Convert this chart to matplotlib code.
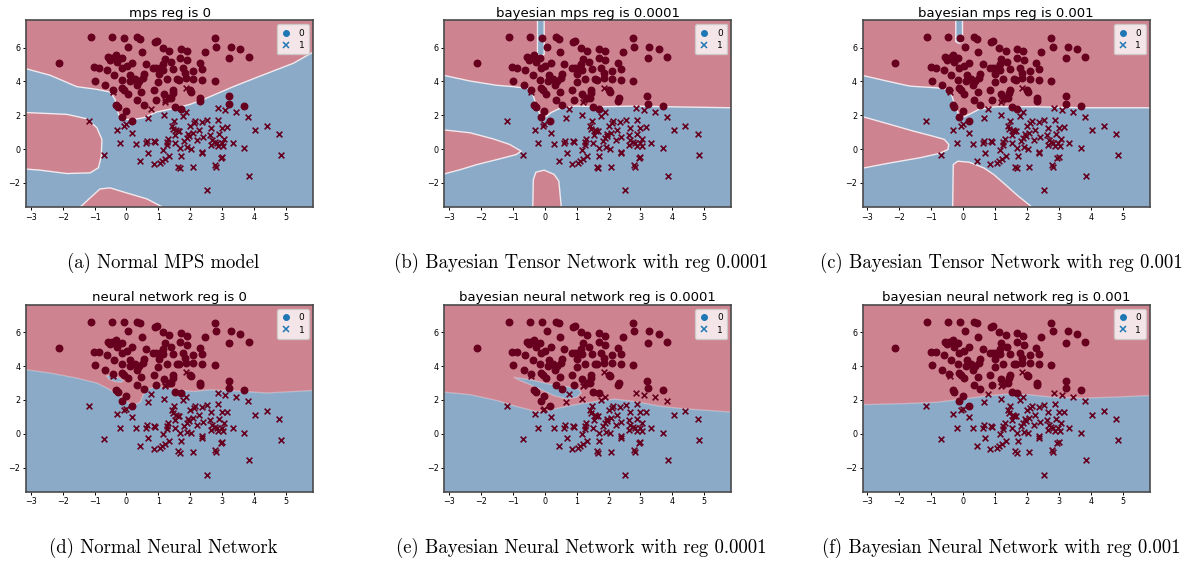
import numpy as np
import matplotlib
matplotlib.use("Agg")
import matplotlib.pyplot as plt
from matplotlib.lines import Line2D

RED = "#cd8490"
BLUE = "#8aaac8"
POINT = "#67001f"
EDGE = "#f1e9ee"
XLIM = (-3.15, 5.85)
YLIM = (-3.43, 7.62)

# class 0 points (circles)
c0_x = [-2.13, -1.12, -0.46, -0.09, 0.34, 0.43, 0.06, 0.88, 0.95, 1.13, 1.33, 1.70, 1.89, 0.48,
        2.76, 2.81, 2.45, 3.28, 3.57, 3.23, 3.83, -1.02, -0.86, -0.99, -0.61, -0.57, -0.51, -0.45,
        -0.33, -0.29, -0.15, -0.13, 0.02, 0.18, -0.38, -0.15, 0.12, 0.10, 0.26, 0.38, 0.51, 0.54,
        0.61, 0.84, 0.94, 1.04, 1.15, 1.20, 1.16, 1.01, 1.00, 1.26, 1.39, 1.47, 1.58, 1.65, 1.69,
        1.77, 1.85, 1.90, 1.86, 2.10, 2.10, 2.29, 2.38, 2.38, 2.77, -0.66, -0.43, -0.13, -0.07,
        0.04, 0.32, 0.47, 0.34, 0.54, 0.85, 0.91, 1.18, 1.32, 1.46, 1.45, 1.41, 2.00, 2.03, 2.32,
        2.31, 1.52, 1.70, -0.33, -0.28, -0.02, -0.13, 0.17, 3.21, 3.23, 3.70]
c0_y = [5.09, 6.63, 6.63, 6.59, 6.63, 6.53, 6.06, 6.32, 6.38, 5.99, 5.82, 5.94, 5.80, 5.72,
        6.57, 6.06, 5.74, 6.06, 5.90, 5.38, 5.42, 4.85, 4.81, 4.04, 4.67, 5.45, 5.28, 5.40,
        5.56, 5.15, 5.39, 4.77, 4.91, 5.11, 4.38, 4.10, 4.36, 4.02, 4.12, 4.02, 4.20, 4.42,
        5.01, 4.80, 4.80, 4.80, 5.00, 5.35, 4.70, 4.41, 3.96, 4.12, 5.15, 4.72, 4.12, 4.10, 5.40,
        4.80, 4.50, 5.27, 4.20, 4.63, 4.16, 5.09, 4.72, 4.10, 4.04, 3.76, 3.52, 3.62, 3.48,
        3.27, 3.76, 3.37, 2.90, 2.62, 3.50, 2.91, 3.25, 3.01, 3.48, 3.31, 2.99, 3.48, 3.39, 2.99,
        2.87, 2.46, 2.38, 2.58, 2.46, 2.22, 1.91, 1.63, 3.13, 2.68, 2.56]

# class 1 points (crosses)
c1_x = [-1.18, -0.69, -0.42, -0.31, -0.20, -0.07, -0.01, 0.18, 0.30, 0.43, 0.64, 0.61, 0.66,
        0.68, 0.77, 0.87, 0.90, 0.85, 1.05, 1.11, 1.16, 1.18, 1.20, 1.22, 1.21, 1.26, 1.26, 1.33,
        1.30, 1.42, 1.45, 1.48, 1.53, 1.52, 1.56, 1.61, 1.66, 1.63, 1.68, 1.69, 1.71, 1.77, 1.81,
        1.86, 1.88, 1.89, 1.91, 1.94, 2.00, 1.96, 2.03, 2.07, 2.11, 2.08, 2.15, 2.22, 2.26, 2.38,
        2.38, 2.37, 2.40, 2.54, 2.52, 2.63, 2.66, 2.68, 2.65, 2.76, 2.79, 2.82, 2.86, 2.88, 2.90,
        2.83, 2.88, 2.99, 2.95, 3.00, 2.98, 3.06, 3.04, 3.10, 3.16, 3.33, 3.44, 3.70, 3.82, 3.85,
        4.04, 4.41, 4.79, 4.85]
c1_y = [1.63, -0.33, 3.39, 1.14, 0.33, 1.39, 1.47, 0.96, 0.31, -0.72, 0.50, 0.33, 1.85,
        -0.25, 2.37, 0.48, 0.42, -0.88, -0.82, -0.72, -0.03, 2.04, 2.80, 2.90, -0.60, 0.26, 0.44, -0.43,
        0.62, 1.39, 1.20, 1.63, 0.80, 0.35, 1.10, 1.04, 1.04, -1.04, -1.12, 0.07, -0.43, 1.98, 0.46,
        3.63, 2.17, 0.66, 0.11, 0.88, 1.39, 0.76, 0.03, 0.94, 1.51, -1.08, 1.65, 0.52, 1.10, -0.15,
        -0.26, 1.61, 0.72, 1.71, -2.42, 0.82, 1.26, 0.54, 0.21, 0.42, -0.96, -1.06, 2.43, 1.73, 0.88,
        0.36, 0.17, 1.27, -0.54, -0.50, 0.36, 0.62, 0.17, 2.29, 1.31, 0.36, 2.18, 0.07, 1.91, -1.57,
        1.10, 1.37, 0.86, -0.36]

titles = ["mps reg is 0", "bayesian mps reg is 0.0001", "bayesian mps reg is 0.001",
          "neural network reg is 0", "bayesian neural network reg is 0.0001",
          "bayesian neural network reg is 0.001"]
captions = ["(a) Normal MPS model", "(b) Bayesian Tensor Network with reg 0.0001",
            "(c) Bayesian Tensor Network with reg 0.001", "(d) Normal Neural Network",
            "(e) Bayesian Neural Network with reg 0.0001",
            "(f) Bayesian Neural Network with reg 0.001"]

# upper (class 0) region boundary for each panel
top_a_x = [-3.15, -2.39, -1.56, -0.93, -0.51, -0.36, -0.25, -0.04, 0.22, 0.53, 0.95, 1.58, 1.99,
           2.41, 2.83, 3.35, 3.98, 4.61, 5.23, 5.86]
top_a_y = [4.75, 4.36, 3.69, 3.53, 3.37, 2.94, 2.05, 1.75, 1.75, 1.85, 2.19, 2.44, 2.64,
           2.93, 3.27, 3.69, 4.16, 4.62, 5.07, 5.74]
top_b_x = [-3.15, -2.34, -1.51, -1.00, -0.43, -0.36, -0.26, -0.12, -0.02, 0.19, 0.44, 0.96, 1.78,
           2.81, 3.84, 5.86]
top_b_y = [4.35, 4.02, 3.77, 3.69, 3.56, 3.13, 2.54, 1.91, 1.81, 2.15, 2.38, 2.54, 2.50,
           2.54, 2.50, 2.44]
top_c_x = [-3.15, -2.39, -1.67, -0.84, -0.43, -0.35, -0.25, -0.12, -0.02, 0.19, 0.49, 1.01, 2.24,
           3.78, 5.86]
top_c_y = [4.35, 4.02, 3.72, 3.62, 3.52, 3.13, 2.54, 1.95, 1.85, 2.05, 2.34, 2.50, 2.50,
           2.44, 2.44]
top_d_x = [-3.15, -2.39, -1.56, -0.93, -0.51, -0.20, 0.06, 0.27, 0.43, 0.53, 0.69, 0.95, 1.26,
           1.58, 2.10, 2.62, 3.35, 4.40, 5.86]
top_d_y = [3.79, 3.59, 3.29, 3.00, 2.60, 2.21, 1.82, 1.72, 1.86, 2.31, 2.64, 2.80, 2.70,
           2.60, 2.50, 2.60, 2.54, 2.41, 2.56]
top_e_x = [-3.15, -2.34, -1.51, -0.90, -0.28, 0.03, 0.44, 0.96, 1.58, 2.19, 2.81, 3.64, 4.36, 5.86]
top_e_y = [2.46, 2.31, 1.97, 1.62, 1.32, 1.32, 1.52, 1.72, 1.91, 2.05, 1.91, 1.62, 1.48, 1.28]
top_f_x = [-3.15, -1.87, -0.84, -0.02, 0.80, 1.42, 2.04, 2.76, 3.78, 4.81, 5.86]
top_f_y = [1.72, 1.78, 1.86, 2.05, 2.25, 2.35, 2.31, 2.17, 2.11, 2.17, 2.26]

# extra class 0 islands
left_a_x = [-3.4, -1.87, -1.24, -0.93, -0.77, -0.79, -0.88, -1.14, -1.87, -2.71, -3.4]
left_a_y = [2.18, 2.05, 1.79, 1.26, 0.57, -0.42, -1.11, -1.41, -1.45, -1.25, -1.15]
bottom_a_x = [-1.60, -1.14, -0.83, -0.51, 0.01, 0.64, 1.40]
bottom_a_y = [-3.7, -2.89, -2.36, -2.30, -2.60, -2.95, -3.7]
left_b_x = [-3.4, -2.34, -1.62, -1.10, -0.74, -0.90, -1.41, -2.13, -2.65, -3.4]
left_b_y = [1.18, 0.96, 0.60, 0.27, -0.13, -0.33, -0.58, -0.92, -1.22, -1.60]
bottom_b_x = [-0.38, -0.36, -0.28, -0.02, 0.29, 0.44, 0.53]
bottom_b_y = [-3.7, -1.81, -1.37, -1.25, -1.50, -1.90, -3.7]
left_c_x = [-3.4, -2.28, -1.56, -0.95, -0.59, -0.45, -0.48, -0.74, -1.36, -2.28, -3.4]
left_c_y = [2.05, 1.45, 1.06, 0.76, 0.57, 0.27, -0.03, -0.26, -0.52, -0.82, -1.22]
bottom_c_x = [-0.33, -0.31, -0.17, 0.19, 0.65, 0.96, 1.32, 1.73, 2.09, 2.25]
bottom_c_y = [-3.7, -0.92, -0.72, -0.78, -1.12, -1.51, -2.10, -2.79, -3.33, -3.7]

# class 1 islands inside the upper region
slit_b_x = [-0.23, -0.23, -0.12, -0.02, -0.02]
slit_b_y = [7.9, 5.6, 5.5, 5.6, 7.9]
slit_c_x = [-0.23, -0.23, -0.12, -0.02, -0.02]
slit_c_y = [7.9, 6.35, 6.25, 6.35, 7.9]
isle_d_x = [-0.62, -0.50, -0.30, -0.10, -0.15, -0.35, -0.55]
isle_d_y = [3.40, 3.47, 3.35, 3.16, 3.05, 3.08, 3.22]
isle_e_x = [-0.95, -0.48, 0.13, 0.75, 1.06, 1.14, 1.01, 0.70, 0.29, -0.28, -0.79]
isle_e_y = [3.33, 3.20, 2.94, 2.76, 2.64, 2.41, 2.17, 2.05, 2.25, 2.76, 3.16]

panels = [
    ((top_a_x, top_a_y), [(left_a_x, left_a_y), (bottom_a_x, bottom_a_y)], [], 1.0),
    ((top_b_x, top_b_y), [(left_b_x, left_b_y), (bottom_b_x, bottom_b_y)], [(slit_b_x, slit_b_y)], 1.0),
    ((top_c_x, top_c_y), [(left_c_x, left_c_y), (bottom_c_x, bottom_c_y)], [(slit_c_x, slit_c_y)], 1.0),
    ((top_d_x, top_d_y), [], [(isle_d_x, isle_d_y)], 0.35),
    ((top_e_x, top_e_y), [], [(isle_e_x, isle_e_y)], 0.35),
    ((top_f_x, top_f_y), [], [], 0.35),
]

lefts = [0.0217, 0.3706, 0.7195]
bottoms = [0.631, 0.1235]
width, height = 0.2394, 0.333
cap_x = [0.136, 0.4846, 0.835]
cap_y = [0.531, 0.024]


def draw_panel(ax, title, top, reds, blues, line_alpha):
    ax.set_facecolor(BLUE)
    bx, by = list(top[0]), list(top[1])
    ax.fill(bx + [6.5, -3.5], by + [8.0, 8.0], color=RED, lw=0, zorder=1)
    ax.plot(bx, by, color=EDGE, lw=1.0, alpha=line_alpha, zorder=2)
    for px, py in reds:
        ax.fill(px, py, color=RED, lw=0, zorder=1)
        ax.plot(list(px) + [px[0]], list(py) + [py[0]], color=EDGE, lw=1.0, alpha=line_alpha, zorder=2)
    for px, py in blues:
        ax.fill(px, py, color=BLUE, lw=0, zorder=1.5)
        ax.plot(list(px) + [px[0]], list(py) + [py[0]], color=EDGE, lw=1.0, alpha=line_alpha, zorder=2)

    ax.scatter(c0_x, c0_y, marker="o", s=22, color=POINT, zorder=3)
    ax.scatter(c1_x, c1_y, marker="x", s=17, color=POINT, linewidths=1.2, zorder=3)

    ax.set_xlim(XLIM)
    ax.set_ylim(YLIM)
    ax.set_xticks(range(-3, 6))
    ax.set_yticks([-2, 0, 2, 4, 6])
    ax.tick_params(labelsize=5.8, length=2.5, width=0.7, pad=1.5)
    for s in ax.spines.values():
        s.set_color("#4a4a4a")
        s.set_linewidth(1.2)
    ax.set_title(title, fontsize=9.5, pad=2.5)

    handles = [Line2D([], [], marker="o", ls="", color="C0", markersize=4),
               Line2D([], [], marker="x", ls="", color="C0", markersize=4, mew=1.1)]
    ax.legend(handles, ["0", "1"], loc="upper right", fontsize=6.5, handletextpad=0.9,
              borderpad=0.5, labelspacing=0.35, handlelength=1.0, borderaxespad=0.45,
              framealpha=0.8, fancybox=True)


fig = plt.figure(figsize=(11.99, 5.61), dpi=100)
for i in range(6):
    r, c = divmod(i, 3)
    ax = fig.add_axes([lefts[c], bottoms[r], width, height])
    top, reds, blues, la = panels[i]
    draw_panel(ax, titles[i], top, reds, blues, la)
    fig.text(cap_x[c], cap_y[r], captions[i], ha="center", va="center",
             fontsize=13.5, family="cmr10")

fig.savefig("out.png", dpi=100, facecolor="white")
